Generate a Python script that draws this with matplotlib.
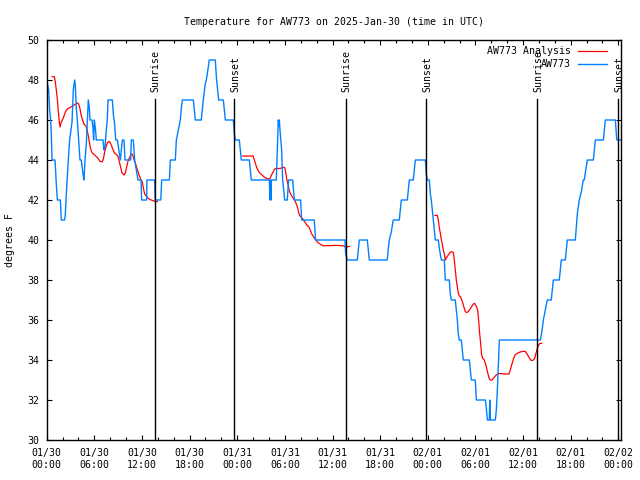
import matplotlib
matplotlib.use('Agg')
import matplotlib.pyplot as plt
import matplotlib.transforms as mtransforms
import numpy as np

# ---- data (hours since 2025-01-30 00:00 UTC, degrees F) ----
obs_hours = [0.0, 0.25, 0.37, 0.50, 0.58, 0.67, 1.05, 1.21, 1.34, 1.72, 1.84, 2.26, 2.35, 2.47, 2.72,
             2.89, 3.19, 3.35, 3.52, 3.61, 3.73, 3.86, 4.03, 4.19, 4.36, 4.57, 4.70, 4.82, 4.99, 5.12,
             5.24, 5.37, 5.45, 5.70, 5.83, 5.91, 6.00, 6.13, 6.25, 7.09, 7.22, 7.34, 7.47, 7.64, 7.72,
             8.27, 8.39, 8.56, 8.69, 8.90, 9.15, 9.27, 9.40, 9.53, 9.74, 9.86, 10.57, 10.66, 10.91, 11.08,
             11.29, 11.50, 11.88, 11.96, 12.59, 12.62, 13.60, 13.65, 14.37, 14.48, 15.45, 15.57, 16.20,
             16.33, 16.58, 16.83, 16.96, 17.08, 18.47, 18.60, 18.72, 19.47, 19.60, 19.72, 19.97, 20.10,
             20.30, 20.47, 21.23, 21.40, 21.66, 22.25, 22.50, 23.50, 23.63, 23.76, 24.26, 24.51, 25.52,
             25.77, 28.04, 28.12, 28.17, 28.25, 28.30, 28.92, 29.05, 29.17, 29.25, 29.30, 29.38, 29.59,
             29.72, 29.85, 29.97, 30.30, 30.47, 30.98, 31.19, 31.98, 32.11, 33.70, 33.87, 37.57, 37.65,
             37.86, 39.12, 39.25, 39.37, 40.38, 40.50, 40.63, 42.90, 43.03, 43.15, 43.40, 43.65, 44.41,
             44.66, 45.42, 45.67, 46.17, 46.43, 47.69, 47.81, 47.94, 48.19, 48.32, 48.44, 48.57, 48.69,
             48.82, 48.94, 49.32, 49.45, 49.70, 50.08, 50.20, 50.71, 50.83, 50.96, 51.46, 51.72, 51.84,
             51.97, 52.22, 52.47, 53.23, 53.35, 53.48, 53.98, 54.11, 55.25, 55.37, 55.50, 55.75, 55.80,
             55.87, 56.51, 56.63, 56.76, 56.88, 57.01, 62.20, 62.43, 62.55, 62.80, 63.05, 63.55, 63.81,
             64.56, 64.81, 65.32, 65.57, 66.58, 66.83, 67.08, 67.33, 67.58, 67.70, 68.09, 68.85, 69.10,
             70.11, 70.36, 71.62, 71.80, 72.40]
obs_temp = [48, 47.5, 46.5, 46, 45.3, 44, 44, 42.8, 42, 42, 41, 41, 41.3, 42.3, 44,
            45, 45.9, 47.5, 48, 47.7, 46.6, 46, 45, 44, 44, 43.3, 43, 44, 44.8, 46,
            47, 46.6, 46, 46, 45.6, 45, 46, 45.6, 45, 45, 44.5, 44.7, 45.3, 46.1, 47,
            47, 46.3, 45.8, 45, 45, 44.3, 44, 44.5, 45, 45, 44, 44, 45, 45, 44,
            43.5, 43, 43, 42, 42, 43, 43, 42, 42, 43, 43, 44, 44,
            45, 45.5, 46, 46.6, 47, 47, 46.5, 46, 46, 46.5, 47, 47.8, 48,
            48.5, 49, 49, 48, 47, 47, 46, 46, 45.3, 45, 45, 44, 44,
            43, 43, 42, 43, 42, 43, 43, 44.5, 46, 45.7, 46, 45.5, 44.5,
            43, 42.5, 42, 42, 43, 43, 42, 42, 41, 41, 40, 40, 39.3,
            39, 39, 39.5, 40, 40, 39.5, 39, 39, 39.6, 40, 40.4, 41, 41,
            42, 42, 43, 43, 44, 44, 43.3, 43, 43, 42.3, 42, 41.5, 41,
            40.5, 40, 40, 39.6, 39, 39, 38, 38, 37.3, 37, 37, 36, 35.3,
            35, 35, 34, 34, 33.5, 33, 33, 32, 32, 31.6, 31, 31, 32,
            31, 31, 31.5, 32.5, 33.7, 35, 35, 35.6, 36, 36.5, 37, 37, 38,
            38, 39, 39, 40, 40, 41.3, 42, 42.4, 43, 43, 44, 44, 45,
            45, 46, 46, 45, 45]

ana_hours_1 = [0.70, 0.96, 1.09, 1.21, 1.34, 1.47, 1.59, 1.68, 1.84, 2.09, 2.35, 2.60, 3.02, 3.35, 3.65,
               3.90, 4.03, 4.19, 4.36, 4.53, 4.70, 4.95, 5.12, 5.29, 5.45, 5.62, 5.79, 6.04, 6.38, 6.72,
               7.01, 7.14, 7.30, 7.47, 7.64, 7.89, 8.06, 8.31, 8.56, 8.81, 8.98, 9.15, 9.32, 9.49, 9.74,
               9.90, 10.07, 10.24, 10.41, 10.66, 10.83, 11.00, 11.16, 11.33, 11.50, 11.67, 11.83, 12.04,
               12.17, 12.34, 12.59, 12.80, 13.00, 13.34, 13.64, 13.93]
ana_temp_1 = [48.17, 48.17, 47.9, 47.5, 47.05, 46.4, 45.9, 45.65, 45.9, 46.1, 46.4, 46.55, 46.65, 46.72, 46.8,
              46.85, 46.8, 46.57, 46.2, 46.0, 45.78, 45.7, 45.45, 45.1, 44.7, 44.45, 44.33, 44.25, 44.12, 43.93,
              43.91, 44.06, 44.4, 44.65, 44.87, 44.93, 44.82, 44.56, 44.33, 44.27, 44.18, 43.9, 43.6, 43.35, 43.25,
              43.35, 43.65, 43.95, 44.1, 44.3, 44.27, 44.0, 43.85, 43.63, 43.42, 43.2, 43.05, 42.9,
              42.6, 42.3, 42.17, 42.08, 42.03, 41.97, 41.92, 41.92]
ana_hours_2 = [24.70, 26.00, 26.15, 26.28, 26.44, 26.70, 26.86, 27.11, 27.45, 27.70, 27.95, 28.12, 28.29,
               28.54, 28.71, 28.88, 29.38, 29.80, 29.97, 30.10, 30.22, 30.39, 30.56, 30.73, 30.90, 31.07,
               31.23, 31.40, 31.57, 31.74, 31.91, 32.08, 32.33, 32.50, 32.75, 33.00, 33.17, 33.34, 33.59,
               33.84, 34.09, 34.42, 34.85, 35.50, 36.50, 37.37, 37.57, 37.78, 38.12]
ana_temp_2 = [44.2, 44.2, 44.0, 43.83, 43.63, 43.42, 43.35, 43.25, 43.13, 43.08, 43.04, 43.08, 43.23,
              43.42, 43.55, 43.57, 43.58, 43.63, 43.63, 43.4, 43.08, 42.78, 42.45, 42.3, 42.18, 42.08,
              42.0, 41.83, 41.67, 41.35, 41.2, 41.13, 41.02, 40.9, 40.75, 40.67, 40.52, 40.33, 40.17,
              40.02, 39.9, 39.8, 39.71, 39.72, 39.73, 39.71, 39.66, 39.65, 39.68]
ana_hours_3 = [48.90, 49.20, 49.32, 49.45, 49.58, 49.70, 49.83, 49.95, 50.08, 50.21, 50.37, 50.58, 50.79,
               51.00, 51.21, 51.34, 51.46, 51.59, 51.72, 51.84, 51.97, 52.10, 52.22, 52.35, 52.47, 52.60,
               52.72, 52.89, 53.10, 53.31, 53.52, 53.73, 53.90, 54.03, 54.15, 54.28, 54.40, 54.53, 54.66,
               54.78, 54.91, 55.08, 55.24, 55.37, 55.50, 55.62, 55.75, 55.87, 56.08, 56.25, 56.50, 56.75,
               56.92, 57.30, 57.72, 58.22, 58.39, 58.56, 58.77, 58.98, 59.27, 59.61, 60.03, 60.28, 60.45,
               60.70, 60.95, 61.21, 61.46, 61.63, 61.79, 61.96, 62.13, 62.34]
ana_temp_3 = [41.23, 41.23, 41.0, 40.6, 40.33, 40.03, 39.75, 39.5, 39.3, 39.0, 39.13, 39.25, 39.37,
              39.42, 39.37, 39.0, 38.5, 38.0, 37.67, 37.35, 37.2, 37.17, 37.05, 36.92, 36.75, 36.58,
              36.42, 36.37, 36.42, 36.55, 36.67, 36.8, 36.83, 36.75, 36.63, 36.5, 36.0, 35.33, 34.8,
              34.25, 34.08, 34.03, 33.83, 33.67, 33.42, 33.25, 33.05, 33.0, 33.0, 33.08, 33.2, 33.3,
              33.32, 33.32, 33.3, 33.3, 33.5, 33.75, 34.03, 34.25, 34.33, 34.4, 34.43, 34.43, 34.33,
              34.17, 34.0, 33.97, 34.08, 34.33, 34.58, 34.75, 34.83, 34.83]

sun_hours = [13.60, 23.65, 37.66, 47.83, 61.79, 71.99]
sun_labels = ['Sunrise', 'Sunset', 'Sunrise', 'Sunset', 'Sunrise', 'Sunset']

xtick_hours = [0, 6, 12, 18, 24, 30, 36, 42, 48, 54, 60, 66, 72]
xtick_labels = ['01/30\n00:00', '01/30\n06:00', '01/30\n12:00', '01/30\n18:00',
                '01/31\n00:00', '01/31\n06:00', '01/31\n12:00', '01/31\n18:00',
                '02/01\n00:00', '02/01\n06:00', '02/01\n12:00', '02/01\n18:00',
                '02/02\n00:00']
ytick_vals = [30, 32, 34, 36, 38, 40, 42, 44, 46, 48, 50]

title = 'Temperature for AW773 on 2025-Jan-30 (time in UTC)'
ylabel = 'degrees F'

# ---- drawing ----
FS = 7.1
plt.rcParams['font.family'] = ['DejaVu Sans Mono']
plt.rcParams['font.size'] = FS

fig = plt.figure(figsize=(6.4, 4.8), dpi=100)
ax = fig.add_axes([46.7 / 640, 40 / 480, (621.3 - 46.7) / 640, 400 / 480])

ana_h = ana_hours_1 + [np.nan] + ana_hours_2 + [np.nan] + ana_hours_3
ana_t = ana_temp_1 + [np.nan] + ana_temp_2 + [np.nan] + ana_temp_3

ax.plot(ana_h, ana_t, color='#ff0000', lw=0.9, label='AW773 Analysis')
ax.plot(obs_hours, obs_temp, color='#0080ff', lw=1.0, label='AW773')

trans = mtransforms.blended_transform_factory(ax.transData, ax.transAxes)
for h, lab in zip(sun_hours, sun_labels):
    ax.axvline(h, ymin=0, ymax=0.852, color='black', lw=1.0)
    ax.text(h + 0.12, 0.871, lab, transform=trans, rotation=90, ha='center', va='bottom')

ax.set_xlim(0, 72.37)
ax.set_ylim(30, 50)
ax.set_xticks(xtick_hours)
ax.set_xticklabels(xtick_labels, linespacing=1.3)
ax.set_xticks(np.arange(0, 73, 2), minor=True)
ax.set_yticks(ytick_vals)
ax.tick_params(which='both', direction='in', top=True, right=True, width=0.8)
ax.tick_params(which='major', length=3.5)
ax.tick_params(which='minor', length=2.2)
ax.tick_params(axis='x', which='major', pad=5.5)
ax.tick_params(axis='y', which='major', pad=5)
for s in ax.spines.values():
    s.set_linewidth(1.0)

ax.set_title(title, pad=11, fontsize=FS)
ax.set_ylabel(ylabel, labelpad=9, fontsize=FS)

leg = ax.legend(loc='upper right', bbox_to_anchor=(0.98, 0.992), markerfirst=False, frameon=False,
                handlelength=2.9, handletextpad=0.75, labelspacing=0.32, borderpad=0.3,
                borderaxespad=0.0, fontsize=FS)

fig.savefig('out.png', dpi=100)
